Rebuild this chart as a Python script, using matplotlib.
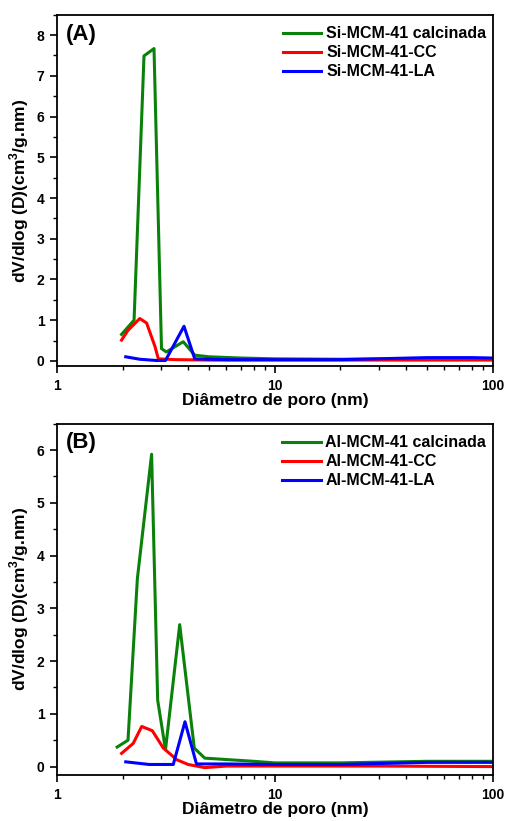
import matplotlib
matplotlib.use("Agg")
import matplotlib.pyplot as plt
from matplotlib.ticker import LogLocator, NullFormatter, MultipleLocator, FixedLocator

plt.rcParams['font.family'] = ['Liberation Sans', 'DejaVu Sans']
plt.rcParams['font.weight'] = 'bold'
plt.rcParams['mathtext.fontset'] = 'custom'
plt.rcParams['mathtext.rm'] = 'Liberation Sans:bold'
plt.rcParams['mathtext.bf'] = 'Liberation Sans:bold'

# (A) Si-MCM-41
si_calc_x = [1.98, 2.26, 2.51, 2.79, 3.02, 3.18, 3.80, 4.29, 5.0, 7.0, 10.0, 20.0, 50.0, 100.0]
si_calc_y = [0.65, 1.00, 7.49, 7.67, 0.30, 0.22, 0.47, 0.14, 0.10, 0.07, 0.05, 0.04, 0.05, 0.05]
si_cc_x = [1.98, 2.12, 2.40, 2.58, 2.82, 2.92, 3.5, 5.0, 10.0, 30.0, 100.0]
si_cc_y = [0.51, 0.75, 1.04, 0.93, 0.35, 0.05, 0.03, 0.02, 0.02, 0.02, 0.02]
si_la_x = [2.07, 2.40, 2.85, 3.15, 3.83, 4.29, 6.0, 10.0, 20.0, 50.0, 80.0, 100.0]
si_la_y = [0.10, 0.04, 0.01, 0.01, 0.85, 0.05, 0.03, 0.03, 0.03, 0.08, 0.08, 0.07]

# (B) Al-MCM-41
al_calc_x = [1.89, 2.12, 2.34, 2.72, 2.90, 3.15, 3.66, 4.27, 4.77, 8.0, 10.0, 20.0, 50.0, 100.0]
al_calc_y = [0.37, 0.50, 3.56, 5.92, 1.26, 0.32, 2.69, 0.35, 0.16, 0.10, 0.07, 0.07, 0.10, 0.10]
al_cc_x = [1.98, 2.24, 2.45, 2.74, 3.08, 3.55, 4.0, 4.77, 6.0, 10.0, 30.0, 100.0]
al_cc_y = [0.25, 0.44, 0.76, 0.68, 0.35, 0.13, 0.04, -0.02, 0.01, 0.01, 0.01, 0.00]
al_la_x = [2.07, 2.65, 3.42, 3.87, 4.37, 6.0, 10.0, 20.0, 50.0, 100.0]
al_la_y = [0.09, 0.04, 0.04, 0.85, 0.05, 0.05, 0.04, 0.04, 0.08, 0.08]

panels = [
    ("(A)", [(si_calc_x, si_calc_y, "Si-MCM-41 calcinada"),
             (si_cc_x, si_cc_y, "Si-MCM-41-CC"),
             (si_la_x, si_la_y, "Si-MCM-41-LA")], (-0.13, 8.5), [0.554, 0.428]),
    ("(B)", [(al_calc_x, al_calc_y, "Al-MCM-41 calcinada"),
             (al_cc_x, al_cc_y, "Al-MCM-41-CC"),
             (al_la_x, al_la_y, "Al-MCM-41-LA")], (-0.16, 6.5), [0.056, 0.428]),
]
colors = ['#0a820a', '#ff0000', '#0000ff']

fig = plt.figure(figsize=(5.08, 8.21), dpi=100)
for tag, series, ylim, (bot, h) in panels:
    ax = fig.add_axes([0.112, bot, 0.858, h])
    for (x, y, lab), c in zip(series, colors):
        ax.plot(x, y, color=c, lw=2.2, label=lab)
    ax.set_xscale('log')
    ax.set_xlim(1, 100)
    ax.set_ylim(*ylim)
    ax.xaxis.set_major_locator(FixedLocator([1, 10, 100]))
    ax.set_xticklabels(['1', '10', '100'])
    ax.xaxis.set_minor_locator(LogLocator(base=10, subs=range(2, 10)))
    ax.xaxis.set_minor_formatter(NullFormatter())
    ax.yaxis.set_major_locator(MultipleLocator(1))
    ax.yaxis.set_minor_locator(MultipleLocator(0.5))
    ax.tick_params(which='major', direction='out', length=5, width=1.2, labelsize=10, pad=4)
    ax.tick_params(which='minor', direction='out', length=3, width=1.0)
    for s in ax.spines.values():
        s.set_linewidth(1.3)
    ax.set_xlabel('Diâmetro de poro (nm)', fontsize=12.5, fontweight='bold', labelpad=0.5)
    ax.set_ylabel('dV/dlog (D)(cm$^3$/g.nm)', fontsize=12.5, fontweight='bold', labelpad=4)
    ax.text(0.02, 0.975, tag, transform=ax.transAxes, fontsize=16, fontweight='bold', va='top', ha='left')
    ax.legend(loc='upper right', bbox_to_anchor=(1.0, 0.985), frameon=False, fontsize=11.5,
              handlelength=2.4, labelspacing=0.25, handletextpad=0.3, borderaxespad=0.0)

fig.savefig('out.png', dpi=100)
